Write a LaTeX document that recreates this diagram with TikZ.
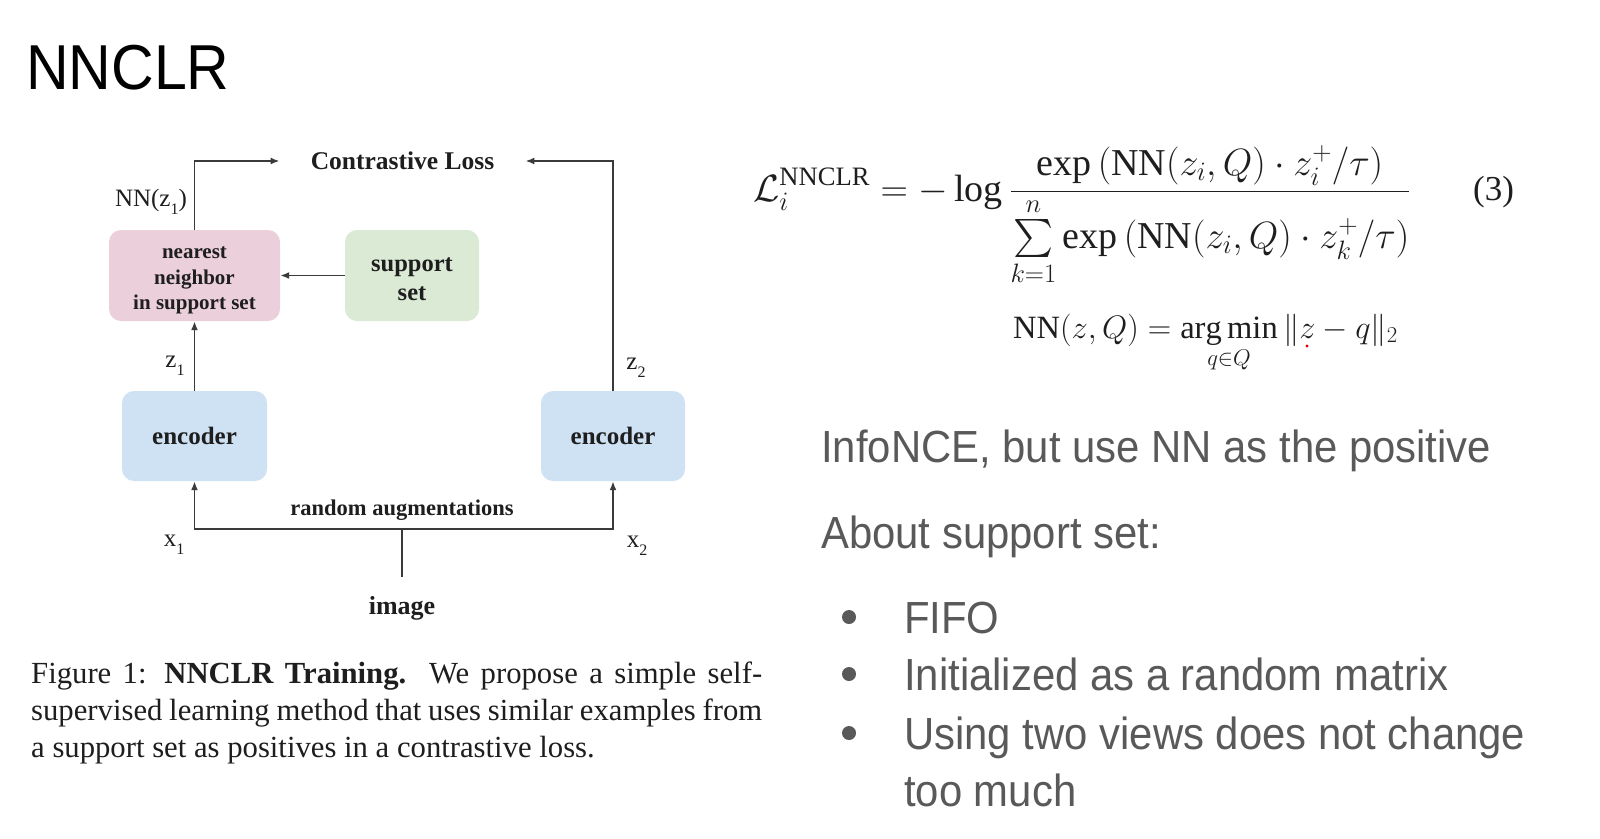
\RequirePackage{fix-cm}
\documentclass[tikz,border=0pt]{standalone}
\DeclareFontShape{OMX}{cmex}{m}{n}{<->cmex10}{}
\usepackage{fontspec}
\setmainfont{Liberation Serif}
\newfontfamily\arialf[FakeStretch=0.93]{Liberation Sans}
\usetikzlibrary{arrows.meta}
\definecolor{pinkc}{HTML}{EBD0DB}
\definecolor{greenc}{HTML}{DAEAD4}
\definecolor{bluec}{HTML}{CFE2F3}
\definecolor{linec}{HTML}{3A3A3A}
\definecolor{txtc}{HTML}{1E1E1E}
\definecolor{graytxt}{HTML}{595959}
\newcommand{\lsub}[1]{\raisebox{-0.32em}{\fontsize{16}{16}\selectfont #1}}
\begin{document}
\begin{tikzpicture}[x=1pt,y=-1pt,
  box/.style={rounded corners=12pt, inner sep=0pt, align=center, text=txtc, font=\bfseries\fontsize{25}{29}\selectfont},
  conn/.style={draw=linec, line width=1.8pt},
  arr/.style={conn, -{Latex[length=9pt,width=7pt]}},
  lbl/.style={inner sep=0pt, text=txtc, font=\fontsize{25}{29}\selectfont},
  rt/.style={anchor=base west, inner sep=0pt, text=graytxt, font=\arialf\fontsize{45}{54}\selectfont},
  bul/.style={fill=graytxt}]
\useasboundingbox[fill=white] (0,0) rectangle (1600,838);

% title
\node[anchor=base west, inner sep=0pt, font=\arialf\fontsize{63.5}{66}\selectfont] (title) at (26,89) {NNCLR};

% diagram
\node[box, fill=pinkc, minimum width=171pt, minimum height=91pt, font=\bfseries\fontsize{21}{25.5}\selectfont] (nn) at (194.5,275.5) {\rule{0pt}{22pt}nearest\\neighbor\\in support set};
\node[box, fill=greenc, minimum width=134pt, minimum height=91pt, font=\bfseries\fontsize{24.5}{29}\selectfont] (ss) at (412,275.5) {\rule{0pt}{22pt}support\\set};
\node[box, fill=bluec, minimum width=145pt, minimum height=90pt] (encL) at (194.5,436) {encoder};
\node[box, fill=bluec, minimum width=144pt, minimum height=90pt] (encR) at (613,436) {encoder};
\node[inner xsep=31pt, inner ysep=0pt, text=txtc, font=\bfseries\fontsize{25.5}{30}\selectfont] (cl) at (402.5,161) {Contrastive Loss};

\draw[arr] (nn.north) |- (cl.west);
\draw[arr] (encR.north) |- (cl.east);
\draw[arr] (ss.west) -- (nn.east);
\draw[arr] (encL.north) -- (nn.south);

\node[lbl, font=\bfseries\fontsize{22.5}{27}\selectfont] (ra) at (402,510) {random augmentations};
\node[lbl, inner ysep=19pt, font=\bfseries\fontsize{26}{30}\selectfont] (img) at (402,608) {image};
\coordinate (bm) at (402,528.6);
\draw[conn] (img.north) -- (bm);
\draw[arr] (bm) -| (encL.south);
\draw[arr] (bm) -| (encR.south);

\node[lbl] (lnn) at (151,202) {NN(z\lsub{1})};
\node[lbl] (lz1) at (175,366) {z\lsub{1}};
\node[lbl] (lz2) at (636,368) {z\lsub{2}};
\node[lbl] (lx1) at (174,545) {x\lsub{1}};
\node[lbl] (lx2) at (637,546) {x\lsub{2}};

% caption
\node[anchor=north west, inner sep=0pt, text width=731pt, align=justify, text=txtc, font=\fontsize{30.7}{37}\selectfont] (cap) at (31,662) {Figure 1: \textbf{NNCLR Training.}\ \ We propose a simple self-\linebreak supervised learning method that uses similar examples from\linebreak a support set as positives in a contrastive loss.};

% equations
\node[anchor=base west, inner sep=0pt, text=txtc, font=\fontsize{38}{44}\selectfont] (eq1) at (753,201) {$\displaystyle \mathcal{L}_i^{\mathrm{NNCLR}} = -\log\frac{\exp\left(\mathrm{NN}(z_i,Q)\cdot z_i^{+}/\tau\right)}{\sum\limits_{k=1}^{n}\exp\left(\mathrm{NN}(z_i,Q)\cdot z_k^{+}/\tau\right)}$};
\node[anchor=base west, inner sep=0pt, text=txtc, font=\fontsize{35}{40}\selectfont] (eqn) at (1473,200) {(3)};
\node[anchor=base west, inner sep=0pt, text=txtc, font=\fontsize{32.5}{38}\selectfont] (eq2) at (1013,338) {$\displaystyle \mathrm{NN}(z,Q) = \mathop{\mathrm{arg\,min}}\limits_{q\in Q}\|z-q\|_2$};
\fill[red!85!black] (1307,346) circle (1.6pt);

% right text
\node[rt] (t1) at (821,462) {InfoNCE, but use NN as the positive};
\node[rt] (t2) at (821,548) {About support set:};
\fill[bul] (849,617) circle (7pt);
\fill[bul] (849,674) circle (7pt);
\fill[bul] (849,733) circle (7pt);
\node[rt] (b1) at (904,633) {FIFO};
\node[rt] (b2) at (904,690) {Initialized as a random matrix};
\node[rt] (b3) at (904,749) {Using two views does not change};
\node[rt] (b4) at (904,806) {too much};
\end{tikzpicture}
\end{document}
